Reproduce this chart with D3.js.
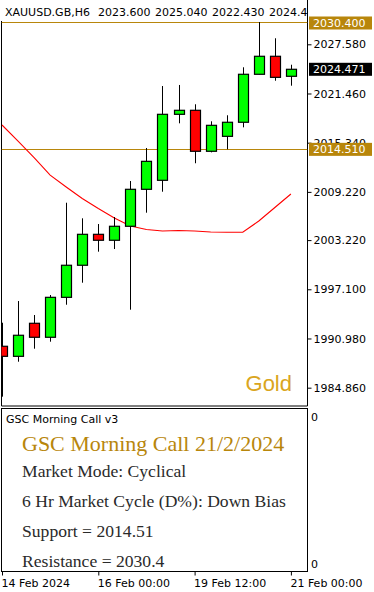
<!DOCTYPE html>
<html><head><meta charset="utf-8">
<script src="https://cdn.jsdelivr.net/npm/d3@7/dist/d3.min.js"></script>
<style>
html,body{margin:0;padding:0;background:#fff;}
svg{display:block;}
</style></head>
<body>
<script>
// ---- data ----
const times = ["2024-02-14 12:00","2024-02-14 18:00","2024-02-15 00:00","2024-02-15 06:00","2024-02-15 12:00","2024-02-15 18:00",
  "2024-02-16 00:00","2024-02-16 06:00","2024-02-16 12:00","2024-02-16 18:00","2024-02-19 00:00","2024-02-19 06:00",
  "2024-02-19 12:00","2024-02-19 18:00","2024-02-20 00:00","2024-02-20 06:00","2024-02-20 12:00","2024-02-20 18:00","2024-02-21 00:00"];
const openP  = [1990.01,1988.76,1992.87,1991.13,1996.10,2000.09,2003.94,2003.20,2004.94,2009.54,2010.66,2018.87,2019.37,2014.27,2016.13,2017.88,2023.85,2026.09,2023.60];
const highP  = [1992.94,1995.64,1993.90,1996.39,2007.87,2005.93,2005.22,2006.09,2010.57,2014.68,2022.39,2022.52,2020.12,2018.00,2018.75,2024.72,2030.35,2028.33,2025.04];
const lowP   = [1983.74,1988.09,1989.71,1990.58,1995.18,1997.92,2001.78,2002.11,1994.56,2006.63,2009.24,2017.75,2012.78,2014.14,2014.52,2017.25,2023.85,2023.05,2022.43];
const closeP = [1988.76,1991.38,1991.13,1996.10,2000.09,2003.94,2003.20,2004.94,2009.54,2013.02,2018.87,2019.37,2014.27,2017.50,2017.88,2023.85,2026.09,2023.47,2024.471];
const maP    = [2017.54,2015.54,2013.47,2011.31,2009.83,2008.40,2007.15,2005.97,2004.97,2004.54,2004.35,2004.41,2004.35,2004.23,2004.20,2004.19,2005.60,2007.28,2008.96];
const yTicks = [2027.58,2021.46,2015.34,2009.22,2003.22,1997.10,1990.98,1984.86];
const xTickTimes = ["2024-02-14 12:00","2024-02-16 00:00","2024-02-19 12:00","2024-02-21 00:00"];
const xTickLabels = ["14 Feb 2024","16 Feb 00:00","19 Feb 12:00","21 Feb 00:00"];
const symbol = "XAUUSD.GB,H6";
const support = 2014.51, resistance = 2030.40, lastPrice = 2024.471;
const panelTitle = "GSC Morning Call v3";
const callTitle = "GSC Morning Call 21/2/2024";
const callLines = ["Market Mode: Cyclical","6 Hr Market Cycle (D%): Down Bias","Support = 2014.51","Resistance = 2030.4"];

// ---- layout ----
const W = 374, H = 592;
const L = 1.5, R = 307.5, T = 21, B = 406;
const subT = 408.5, subB = 571.5;
const gold = "#B8860B";

const svg = d3.select("body").append("svg").attr("width", W).attr("height", H)
  .style("font-family", "'DejaVu Sans', sans-serif");

const x = d3.scalePoint().domain(times).range([2, 290.9]);
const y = d3.scaleLinear().domain([1982.58, 2030.48]).range([B, T]);

svg.append("defs").append("clipPath").attr("id","clipMain")
  .append("rect").attr("x", L).attr("y", 0).attr("width", R - L).attr("height", B);

// frames
svg.append("path").attr("d", `M${L},${T}V${B}H${R}V0`).attr("fill","none").attr("stroke","#000");
svg.append("rect").attr("x", L).attr("y", subT).attr("width", R - L).attr("height", subB - subT)
  .attr("fill","none").attr("stroke","#000");

const main = svg.append("g").attr("clip-path","url(#clipMain)");

// header text (symbol + OHLC of last bar)
const hdr = [symbol, openP[18].toFixed(3), highP[18].toFixed(3), lowP[18].toFixed(3), closeP[18].toFixed(3)];
const hdrX = [5, 98, 155, 212, 269];
main.selectAll("text.hdr").data(hdr).join("text").attr("class","hdr")
  .attr("x", (d,i) => hdrX[i]).attr("y", 12).attr("dy","0.35em").attr("font-size", 11)
  .attr("fill","#000").text(d => d);

// support / resistance lines
[support, resistance].forEach(v => {
  main.append("line").attr("x1", L).attr("x2", R)
    .attr("y1", Math.round(y(v)) + 0.5).attr("y2", Math.round(y(v)) + 0.5)
    .attr("stroke", gold).attr("stroke-width", 1);
});

// moving average
main.append("path").datum(maP)
  .attr("d", d3.line().x((d,i) => x(times[i])).y(d => y(d)))
  .attr("fill","none").attr("stroke","#ff0000").attr("stroke-width", 1.1);

// candles
const c = main.selectAll("g.candle").data(times).join("g").attr("class","candle");
c.append("line")
  .attr("x1", (d) => Math.round(x(d)) + 0.5).attr("x2", (d) => Math.round(x(d)) + 0.5)
  .attr("y1", (d,i) => y(highP[i])).attr("y2", (d,i) => y(lowP[i]))
  .attr("stroke","#000").attr("stroke-width", 1);
c.append("rect")
  .attr("x", d => Math.round(x(d)) - 4.5).attr("width", 10)
  .attr("y", (d,i) => y(Math.max(openP[i], closeP[i])))
  .attr("height", (d,i) => Math.max(1, Math.abs(y(openP[i]) - y(closeP[i]))))
  .attr("fill", (d,i) => closeP[i] >= openP[i] ? "#00ff00" : "#ff0000")
  .attr("stroke","#000").attr("stroke-width", 1.2);

// "Gold" label
svg.append("text").attr("x", 292).attr("y", 391).attr("text-anchor","end")
  .attr("font-family","'Liberation Sans', Arial, sans-serif").attr("font-size", 22)
  .attr("fill", "#DAA520").text("Gold");

// right price axis
const yAxis = d3.axisRight(y).tickValues(yTicks).tickSize(4).tickPadding(2)
  .tickFormat(d3.format(".3f"));
const ya = svg.append("g").attr("transform", `translate(${R},0)`).call(yAxis);
ya.select(".domain").remove();
ya.selectAll("text").attr("font-size", 11).attr("font-family","'DejaVu Sans', sans-serif").attr("fill","#000");
ya.selectAll("line").attr("stroke","#000");

// price boxes
[[resistance, gold], [lastPrice, "#000"], [support, gold]].forEach(([v, col]) => {
  const yy = y(v);
  const yc = Math.max(yy, 23);
  svg.append("rect").attr("x", 309).attr("y", yc - 6.5).attr("width", 63).attr("height", 13).attr("fill", col);
  svg.append("text").attr("x", 313).attr("y", yc).attr("dy","0.35em").attr("font-size", 11)
    .attr("fill","#fff").text(v.toFixed(3));
});

// sub window
svg.append("text").attr("x", 6).attr("y", 419.5).attr("dy","0.35em").attr("font-size", 11)
  .attr("fill","#000").text(panelTitle);
svg.append("text").attr("x", 311).attr("y", 417).attr("dy","0.35em").attr("font-size", 11).attr("fill","#000").text("0");
svg.append("text").attr("x", 311).attr("y", 564.5).attr("dy","0.35em").attr("font-size", 11).attr("fill","#000").text("0");

const serif = "'Liberation Serif', 'Times New Roman', serif";
svg.append("text").attr("x", 22).attr("y", 451).attr("font-family", serif).attr("font-size", 22)
  .attr("fill", gold).text(callTitle);
svg.selectAll("text.call").data(callLines).join("text").attr("class","call")
  .attr("x", 22).attr("y", (d,i) => 477 + i * 30)
  .attr("font-family", serif).attr("font-size", 17.6).attr("fill", "#2a2a2a").text(d => d);

// bottom time axis
const xAxis = d3.axisBottom(x).tickValues(xTickTimes).tickSize(4).tickPadding(0)
  .tickFormat((d) => xTickLabels[xTickTimes.indexOf(d)]);
const xa = svg.append("g").attr("transform", `translate(0,${subB})`).call(xAxis);
xa.select(".domain").remove();
xa.selectAll("line").attr("stroke","#000");
xa.selectAll("text").attr("text-anchor","start").attr("x", -1).attr("y", 11.5).attr("dy","0.35em")
  .attr("font-size", 11).attr("font-family","'DejaVu Sans', sans-serif").attr("fill","#000");
</script>
</body></html>
